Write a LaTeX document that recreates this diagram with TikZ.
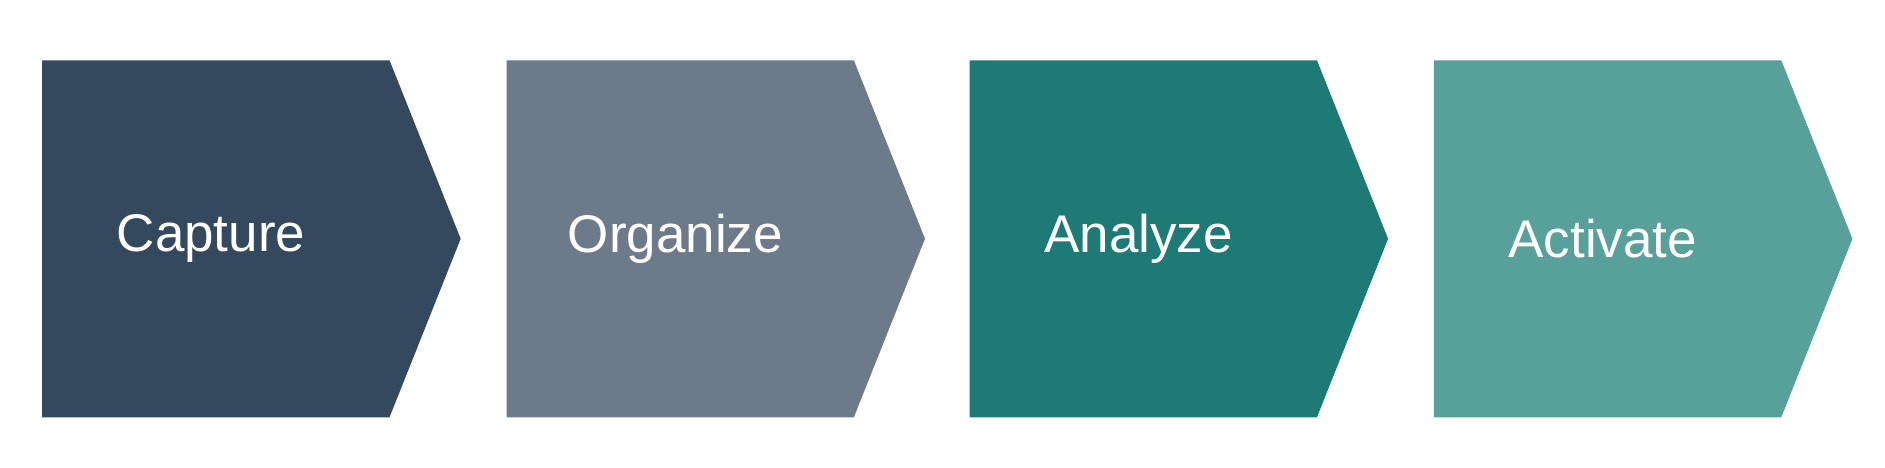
\documentclass[tikz,border=0pt]{standalone}
\usepackage{fontspec}
\setmainfont{Liberation Sans}
\usetikzlibrary{positioning}
\definecolor{stepA}{HTML}{34495E}
\definecolor{stepB}{HTML}{6C7A89}
\definecolor{stepC}{HTML}{1D7A74}
\definecolor{stepD}{HTML}{58A09A}
\begin{document}
\begin{tikzpicture}[label/.style={text=white,font=\fontsize{12.5}{14}\selectfont}]
  \useasboundingbox (0,0) rectangle (15.63,3.88);

  \foreach \x/\c/\t/\n in {0.35/stepA/Capture/cap,4.20/stepB/Organize/org,8.04/stepC/Analyze/ana,11.89/stepD/Activate/act}{
    \fill[\c] (\x,3.38) -- ++(2.88,0) -- ++(0.59,-1.48) -- ++(-0.59,-1.48) -- (\x,0.42) -- cycle;
    \node[label] (\n) at (\x+1.40,1.90) {\t};
  }
\end{tikzpicture}
\end{document}
